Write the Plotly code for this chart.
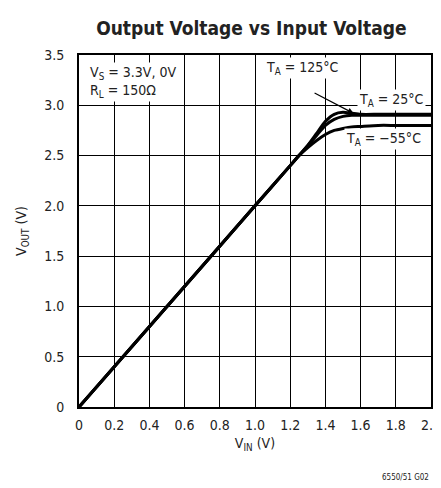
import plotly.graph_objects as go

vin = [0, 0.5, 1.0, 1.2, 1.25, 1.3, 1.35, 1.4, 1.45, 1.5, 1.55, 1.6, 1.7, 1.8, 2.0]
v_125 = [0, 1.0, 2.0, 2.4, 2.5, 2.6, 2.72, 2.84, 2.91, 2.93, 2.92, 2.91, 2.91, 2.91, 2.91]
v_25 = [0, 1.0, 2.0, 2.4, 2.5, 2.6, 2.70, 2.80, 2.86, 2.89, 2.90, 2.90, 2.90, 2.90, 2.90]
v_m55 = [0, 1.0, 2.0, 2.4, 2.5, 2.58, 2.65, 2.71, 2.75, 2.77, 2.785, 2.79, 2.80, 2.80, 2.80]

x_ticks = [0, 0.2, 0.4, 0.6, 0.8, 1.0, 1.2, 1.4, 1.6, 1.8, 2.0]
x_labels = ["0", "0.2", "0.4", "0.6", "0.8", "1.0", "1.2", "1.4", "1.6", "1.8", "2.0"]
y_ticks = [0, 0.5, 1.0, 1.5, 2.0, 2.5, 3.0, 3.5]
y_labels = ["0", "0.5", "1.0", "1.5", "2.0", "2.5", "3.0", "3.5"]

FONT = "DejaVu Sans Condensed, Liberation Sans Narrow, Arial Narrow, sans-serif"

fig = go.Figure()
for ys in (v_m55, v_25, v_125):
    fig.add_trace(go.Scatter(x=vin, y=ys, mode="lines",
                             line=dict(color="black", width=3, shape="spline", smoothing=0.6),
                             showlegend=False, hoverinfo="skip"))

# page body has an 8px margin, so the figure is 433x480 and sits at (8, 8)
fig.update_layout(
    width=433, height=480,
    margin=dict(l=71, r=10, t=47, b=81, autoexpand=False),
    paper_bgcolor="white", plot_bgcolor="white",
    font=dict(family=FONT, size=14, color="#222"),
    title=dict(text="<b>Output Voltage vs Input Voltage</b>", x=(212 / 433), xanchor="center",
               xref="paper", y=(1 - 20 / 480), yanchor="middle", automargin=False,
               font=dict(family=FONT, size=19, color="#222")),
    xaxis=dict(range=[0, 2.0], tickvals=x_ticks, ticktext=x_labels, showgrid=True,
               gridcolor="black", gridwidth=1, showline=True, linecolor="black", linewidth=2,
               mirror=True, ticks="", zeroline=False, automargin=False, ticklabelstandoff=4,
               ticklabeloverflow="allow",
               title=dict(text="V<sub>IN</sub> (V)", standoff=6, font=dict(size=14))),
    yaxis=dict(range=[0, 3.5], tickvals=y_ticks, ticktext=y_labels, showgrid=True,
               gridcolor="black", gridwidth=1, showline=True, linecolor="black", linewidth=2,
               mirror=True, ticks="", zeroline=False, automargin=False, ticklabelstandoff=10,
               ticklabeloverflow="allow",
               title=dict(text="V<sub>OUT</sub> (V)", standoff=14, font=dict(size=14))),
)

fig.add_annotation(x=0.05, y=3.43, xref="x", yref="y", xanchor="left", yanchor="top",
                   align="left", showarrow=False, bgcolor="white",
                   text="V<sub>S</sub> = 3.3V, 0V<br>R<sub>L</sub> = 150Ω",
                   font=dict(size=14, color="#222"))
fig.add_annotation(x=1.27, y=3.37, xref="x", yref="y", showarrow=False, bgcolor="white",
                   text="T<sub>A</sub> = 125°C", font=dict(size=14, color="#222"))
fig.add_annotation(x=1.775, y=3.05, xref="x", yref="y", showarrow=False, bgcolor="white",
                   text="T<sub>A</sub> = 25°C", font=dict(size=14, color="#222"))
fig.add_annotation(x=1.73, y=2.66, xref="x", yref="y", showarrow=False, bgcolor="white",
                   text="T<sub>A</sub> = −55°C", font=dict(size=14, color="#222"))
fig.add_annotation(x=1.56, y=2.92, ax=1.33, ay=3.13, xref="x", yref="y", axref="x", ayref="y",
                   showarrow=True, arrowhead=2, arrowsize=1, arrowwidth=1.2, arrowcolor="black",
                   text="")
fig.add_annotation(x=1.0, y=-0.2, xref="paper", yref="paper", xshift=0,
                   xanchor="right", yanchor="middle", showarrow=False,
                   text="6550/51 G02", font=dict(size=8, color="#222"))

fig.write_html("out.html")
